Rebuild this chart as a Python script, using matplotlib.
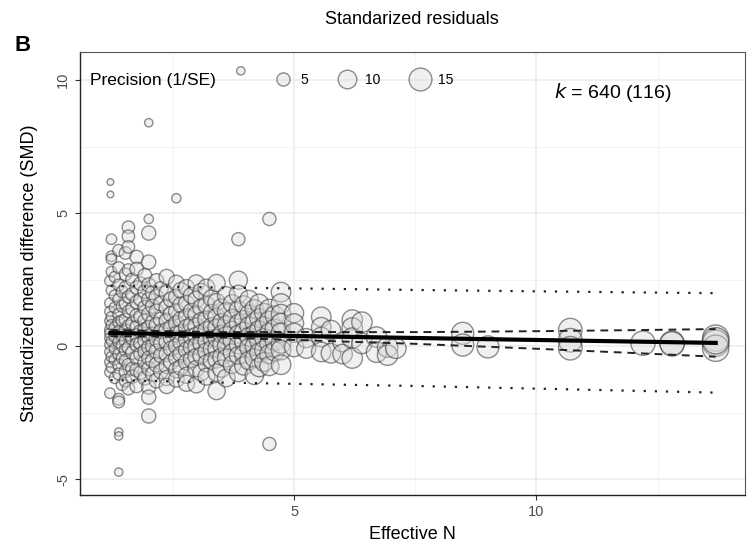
import numpy as np
import matplotlib
matplotlib.use('Agg')
import matplotlib.pyplot as plt
from matplotlib.lines import Line2D

plt.rcParams['font.family'] = ['Liberation Sans', 'DejaVu Sans']

# columns of studies: effective N, precision (1/SE), SMD values
col_x = [1.20, 1.23, 1.30, 1.38, 1.45, 1.52, 1.58, 1.66, 1.75, 1.83, 1.92, 2.00, 2.08,
         2.16, 2.25, 2.37, 2.46, 2.57, 2.66, 2.78, 2.88, 2.98, 3.08, 3.19, 3.30, 3.40,
         3.50, 3.60, 3.72, 3.85, 3.96, 4.07, 4.18, 4.28, 4.38, 4.49, 4.60, 4.73,
         5.0, 5.25, 5.56, 5.76, 6.0, 6.2, 6.4, 6.7, 6.93, 7.1, 8.48, 9.0, 10.7, 12.2,
         12.8, 13.7]
col_p = [3.2, 3.2, 3.6, 4.0, 4.0, 4.5, 4.5, 5.0, 5.2, 5.2, 5.6, 5.8, 5.8,
         6.2, 6.2, 6.6, 6.6, 7.0, 7.0, 7.4, 7.4, 7.8, 7.8, 8.2, 8.2, 8.6,
         8.6, 9.0, 9.0, 9.4, 9.4, 9.8, 9.8, 10.2, 10.2, 10.6, 10.6, 11,
         10.5, 10.5, 11, 11, 11, 12, 12, 12, 12, 12, 14, 14, 16, 17,
         17, 20]
col_y = [
    [2.45, 1.62, 1.3, 0.95, 0.62, 0.48, 0.3, 0.05, -0.22, -0.6, -0.98, -1.77],
    [4.02, 3.38, 3.27, 2.8, 2.1, 1.1, 0.8, 0.2, -0.4, -0.8],
    [2.6, 1.9, 1.45, 0.7, 0.35, -0.1, -0.5, -1.2],
    [3.6, 2.95, 2.3, 1.75, 1.2, 0.9, 0.55, 0.15, -0.3, -0.7, -1.05, -2.0, -2.1],
    [2.05, 1.5, 0.95, 0.4, 0.0, -0.45, -1.45],
    [3.5, 2.7, 2.2, 1.6, 1.0, 0.6, 0.2, -0.15, -0.55, -0.95, -1.3],
    [4.47, 4.13, 3.73, 2.86, 1.85, 1.3, 0.75, 0.45, -0.05, -0.7, -1.6],
    [2.5, 1.95, 1.4, 0.85, 0.3, -0.25, -0.85, -1.15],
    [3.35, 2.9, 2.2, 1.65, 1.15, 0.7, 0.4, 0.05, -0.45, -0.9, -1.5],
    [2.35, 1.75, 1.1, 0.55, 0.1, -0.3, -1.0],
    [2.65, 2.05, 1.45, 0.95, 0.6, 0.2, -0.2, -0.6, -1.2],
    [4.25, 3.16, 2.3, 1.75, 1.2, 0.7, 0.35, -0.05, -0.45, -0.85, -1.54, -1.92, -2.63],
    [2.0, 1.5, 0.9, 0.45, 0.0, -0.55, -1.05],
    [2.45, 1.85, 1.3, 0.8, 0.25, -0.2, -0.7, -1.3],
    [2.15, 1.6, 1.0, 0.55, 0.1, -0.35, -0.95],
    [2.6, 2.0, 1.45, 0.95, 0.6, 0.15, -0.3, -0.75, -1.2, -1.5],
    [1.75, 1.2, 0.7, 0.3, -0.1, -0.6],
    [2.37, 1.85, 1.3, 0.85, 0.45, 0.0, -0.45, -0.9, -1.25],
    [2.1, 1.55, 1.0, 0.5, 0.15, -0.3, -0.8],
    [2.2, 1.6, 1.1, 0.7, 0.25, -0.15, -0.6, -1.1, -1.4],
    [1.9, 1.3, 0.8, 0.35, -0.05, -0.5],
    [2.37, 1.75, 1.2, 0.75, 0.4, 0.0, -0.4, -0.85, -1.45],
    [2.05, 1.45, 0.95, 0.5, 0.1, -0.35, -1.0],
    [2.2, 1.55, 1.0, 0.6, 0.2, -0.2, -0.65, -1.15],
    [1.8, 1.25, 0.75, 0.3, -0.1, -0.55],
    [2.37, 1.65, 1.1, 0.7, 0.3, -0.1, -0.5, -1.0, -1.69],
    [1.45, 0.9, 0.45, 0.05, -0.4, -0.85],
    [1.9, 1.3, 0.8, 0.4, 0.0, -0.45, -1.2],
    [1.6, 1.05, 0.6, 0.2, -0.25, -0.7],
    [2.48, 1.95, 1.35, 0.85, 0.45, 0.05, -0.35, -1.0],
    [1.55, 1.0, 0.55, 0.15, -0.3, -0.75],
    [1.75, 1.2, 0.75, 0.35, -0.05, -0.55],
    [1.4, 0.9, 0.45, 0.0, -0.45, -1.1],
    [1.6, 1.05, 0.6, 0.2, -0.25, -0.8],
    [1.25, 0.75, 0.3, -0.15, -0.6],
    [1.4, 0.95, 0.5, 0.1, -0.3, -0.75],
    [1.15, 0.65, 0.2, -0.2],
    [2.03, 1.6, 1.2, 0.86, 0.5, 0.1, -0.15, -0.7],
    [1.24, 0.86, 0.5, -0.04],
    [0.3, -0.1],
    [1.1, 0.71, 0.34, -0.22],
    [0.6, -0.27],
    [0.15, -0.3],
    [0.98, 0.68, 0.3, -0.45],
    [0.9, 0.1],
    [0.34, -0.23],
    [-0.04, -0.34],
    [-0.08],
    [0.48, 0.04],
    [-0.03],
    [0.6, 0.22, -0.08],
    [0.11],
    [0.11, 0.08],
    [0.3, 0.11, -0.08, 0.2],
]

# isolated points with their own precision
out_x = [1.21, 1.21, 1.38, 1.38, 1.38, 2.0, 2.0, 2.57, 3.85, 4.49, 4.49, 3.9]
out_y = [6.17, 5.7, -3.23, -3.38, -4.74, 8.4, 4.78, 5.56, 4.02, 4.78, -3.68, 10.35]
out_p = [1.3, 1.3, 2.0, 2.0, 2.0, 2.0, 2.5, 2.5, 5.0, 5.0, 5.0, 2.0]

# meta-regression fit, confidence and prediction bands
line_x = [1.21, 2.5, 3.5, 5, 7.5, 10, 12, 13.7]
fit_y = [0.49, 0.455, 0.425, 0.38, 0.305, 0.23, 0.17, 0.12]
ci_lo = [0.37, 0.355, 0.325, 0.23, 0.085, -0.10, -0.26, -0.40]
ci_hi = [0.61, 0.555, 0.525, 0.53, 0.525, 0.56, 0.60, 0.64]
pi_lo = [-1.28, -1.33, -1.37, -1.42, -1.5, -1.6, -1.68, -1.75]
pi_hi = [2.26, 2.23, 2.2, 2.17, 2.11, 2.06, 2.02, 1.99]

legend_p = [5, 10, 15]

xs, ys, ps = [], [], []
for x, p, yy in zip(col_x, col_p, col_y):
    for y in yy:
        xs.append(x)
        ys.append(y)
        ps.append(p)
xs += out_x
ys += out_y
ps += out_p
xs = np.array(xs)
ys = np.array(ys)
ps = np.array(ps)

size_k = 18
face = (0.86, 0.86, 0.86, 0.4)
edge = (0.2, 0.2, 0.2, 0.55)

fig = plt.figure(figsize=(7.47, 5.5), dpi=100)
ax = fig.add_axes([0.107, 0.1, 0.89, 0.805])

ax.set_xticks([2.5, 7.5, 12.5], minor=True)
ax.set_yticks([-2.5, 2.5, 7.5], minor=True)
ax.grid(True, which='major', color='#ebebeb', lw=1.1, zorder=0)
ax.grid(True, which='minor', color='#f2f2f2', lw=0.6, zorder=0)
ax.set_axisbelow(True)

ax.scatter(xs, ys, s=ps * size_k, facecolor=face, edgecolor=edge, linewidths=1.0, zorder=2)

ax.plot(line_x, pi_hi, color='#222222', ls=(0, (1, 4)), lw=1.6, zorder=3)
ax.plot(line_x, pi_lo, color='#222222', ls=(0, (1, 4)), lw=1.6, zorder=3)
ax.plot(line_x, ci_hi, color='#222222', ls=(0, (4, 3)), lw=1.4, zorder=3)
ax.plot(line_x, ci_lo, color='#222222', ls=(0, (4, 3)), lw=1.4, zorder=3)
ax.plot(line_x, fit_y, color='black', lw=3.0, zorder=4)

ax.set_xlim(0.58, 14.3)
ax.set_ylim(-5.6, 11.05)
ax.set_xticks([5, 10])
ax.set_yticks([-5, 0, 5, 10])
ax.set_yticklabels(['-5', '0', '5', '10'], rotation=90, va='center')
ax.tick_params(axis='both', which='major', labelsize=10.5, labelcolor='#4d4d4d',
               color='#333333', length=3.5, width=0.8)
ax.tick_params(axis='both', which='minor', length=0)

for side in ['top', 'right']:
    ax.spines[side].set_color('#555555')
    ax.spines[side].set_linewidth(0.8)
for side in ['left', 'bottom']:
    ax.spines[side].set_color('#222222')
    ax.spines[side].set_linewidth(1.0)

ax.set_xlabel('Effective N', fontsize=13)
ax.set_ylabel('Standardized mean difference (SMD)', fontsize=13)
ax.yaxis.set_label_coords(-0.063, 0.5)
ax.xaxis.set_label_coords(0.5, -0.07)

# size legend
ax.text(0.015, 0.937, 'Precision (1/SE)', transform=ax.transAxes, va='center',
        ha='left', fontsize=12.5, zorder=5)
handles = [Line2D([], [], ls='none', marker='o', markersize=np.sqrt(p * size_k),
                  markerfacecolor=face, markeredgecolor=edge, markeredgewidth=1.0)
           for p in legend_p]
ax.legend(handles, [str(p) for p in legend_p], ncol=3, loc='center left',
          bbox_to_anchor=(0.28, 0.937), frameon=False, fontsize=10,
          handletextpad=0.5, columnspacing=2.0, borderaxespad=0, handlelength=1.6)

ax.text(0.802, 0.91, r'$k$ = 640 (116)', transform=ax.transAxes, ha='center',
        va='center', fontsize=14)

fig.text(0.552, 0.965, 'Standarized residuals', ha='center', va='center', fontsize=13)
fig.text(0.03, 0.918, 'B', ha='center', va='center', fontsize=16, fontweight='bold')

fig.savefig('out.png', dpi=100, facecolor='white')
